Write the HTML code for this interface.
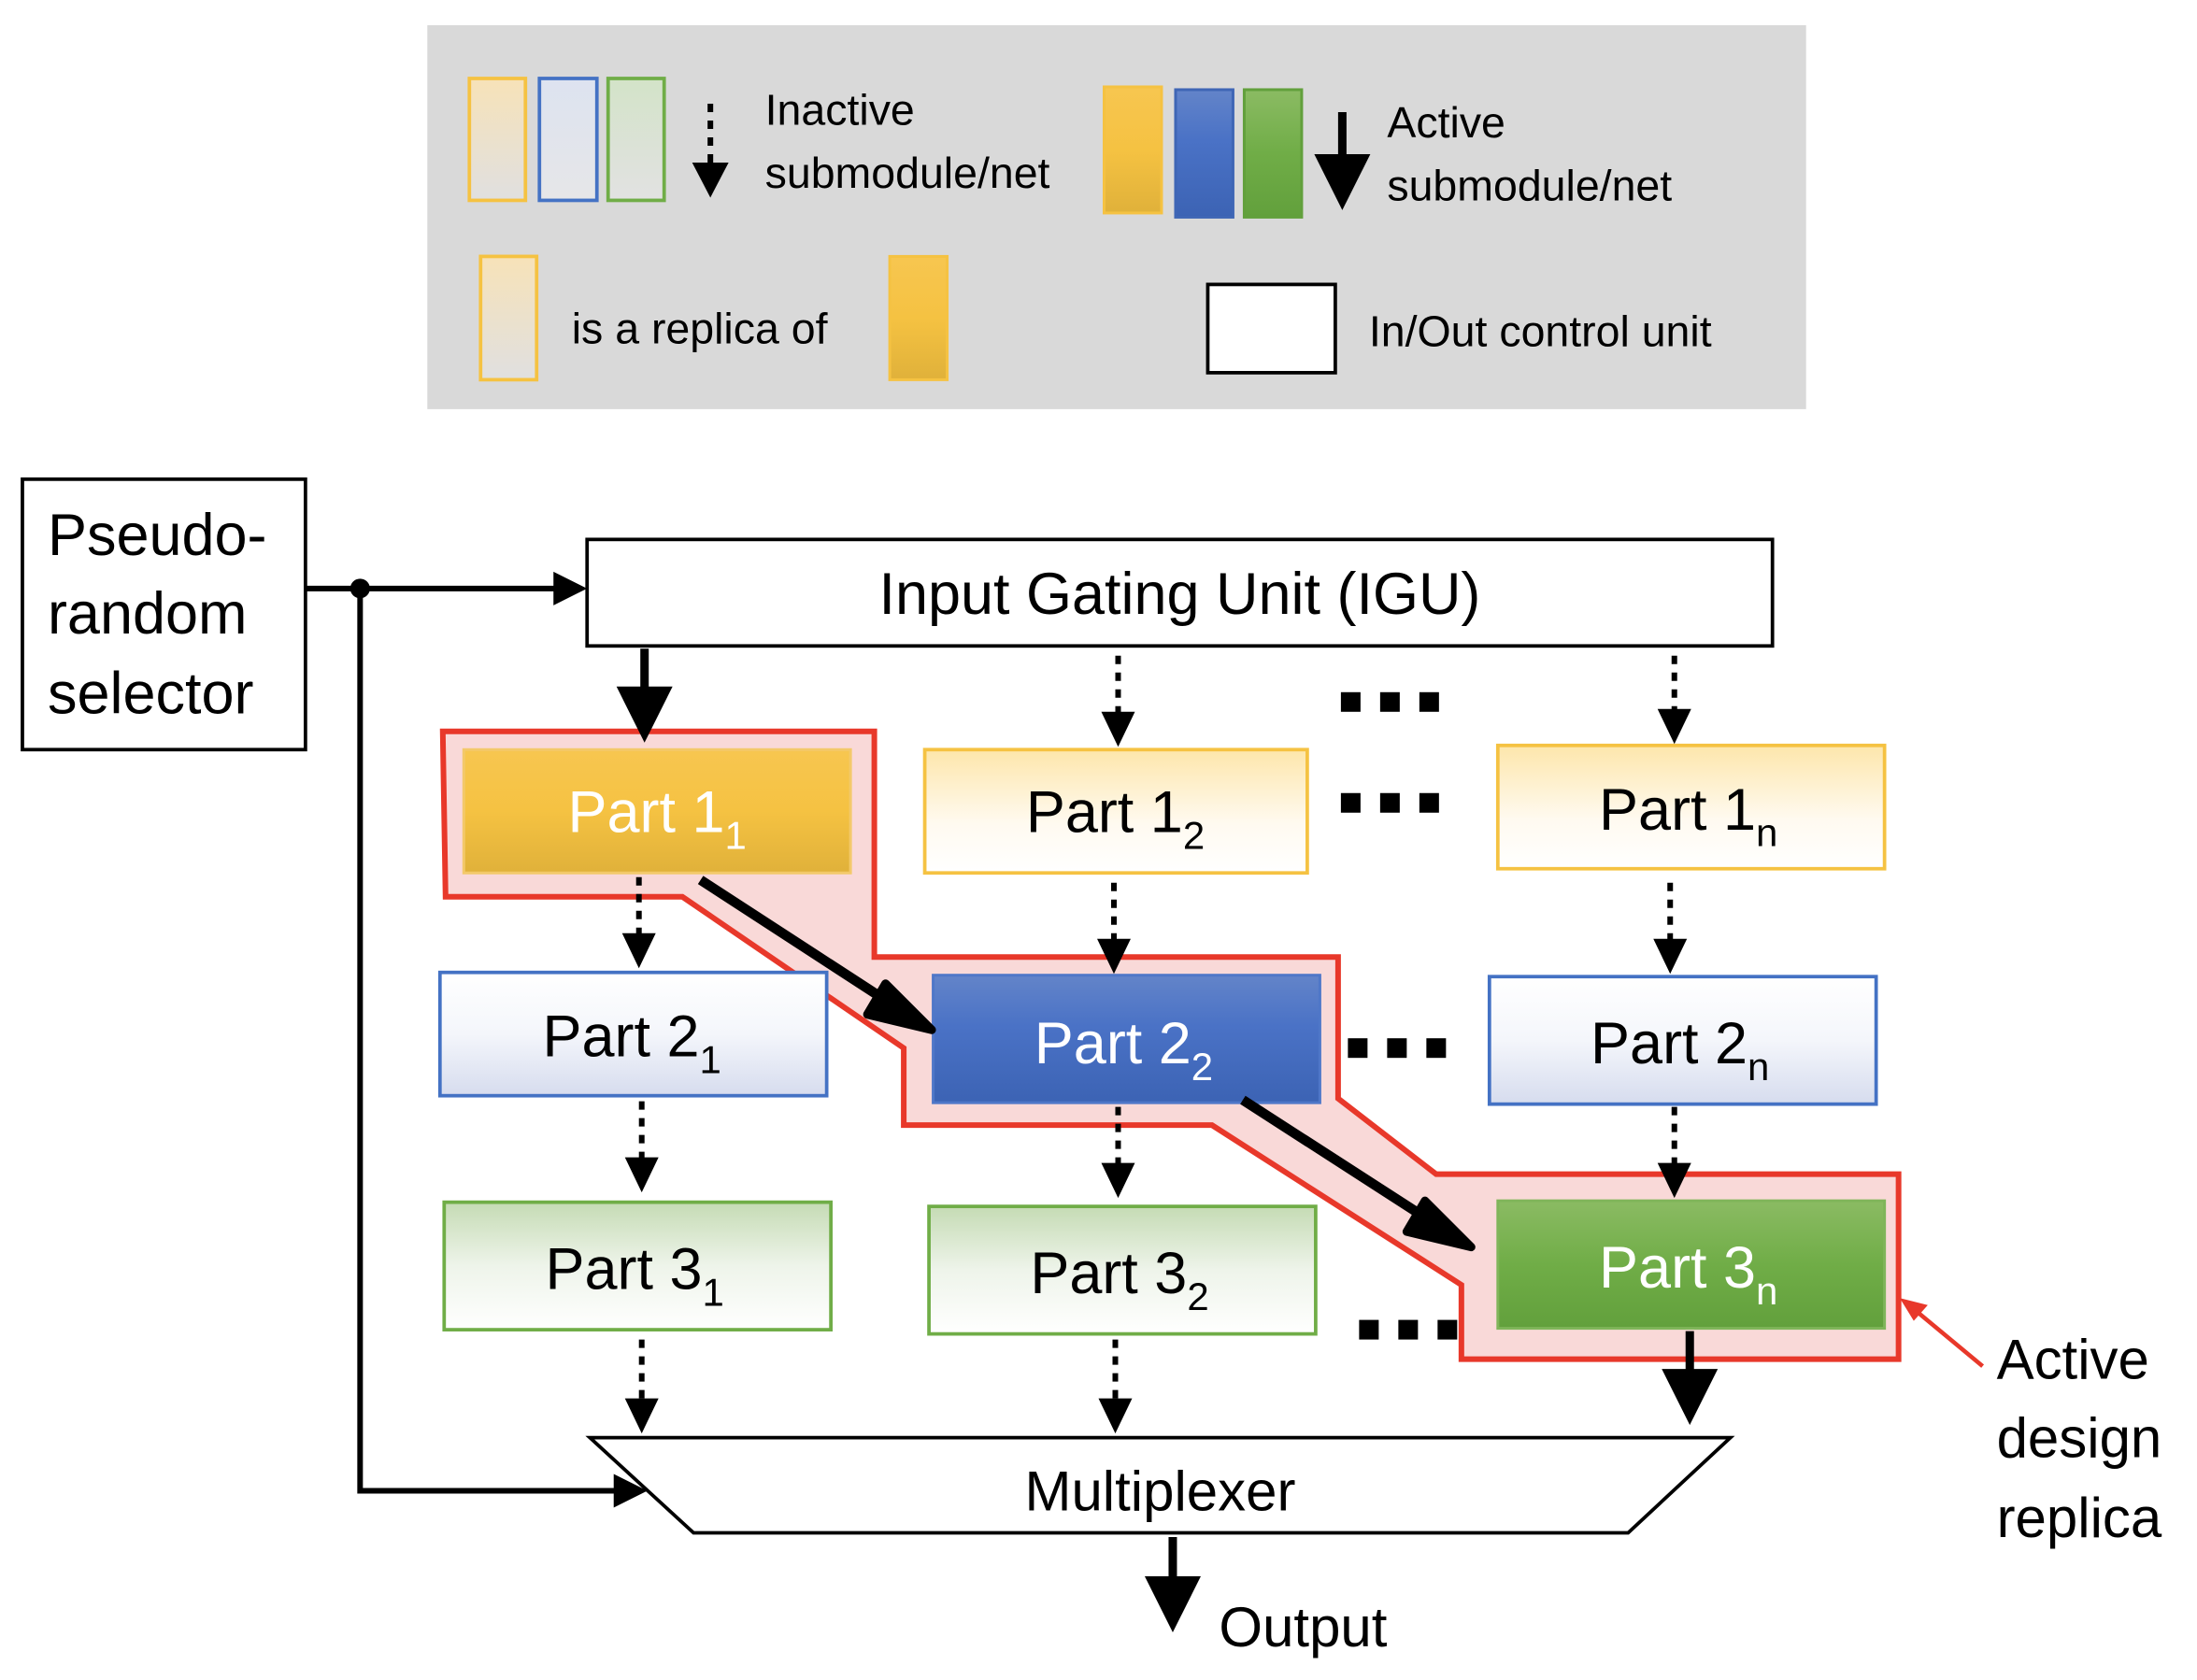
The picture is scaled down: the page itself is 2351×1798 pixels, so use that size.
<!DOCTYPE html>
<html><head><meta charset="utf-8"><style>
html,body{margin:0;padding:0;background:#fff;}
svg{display:block;}
text{font-family:"Liberation Sans",sans-serif;}
</style></head><body>
<svg width="2351" height="1798" viewBox="0 0 1568 1199" preserveAspectRatio="none" xmlns="http://www.w3.org/2000/svg">
<defs>
<linearGradient id="ly" x1="0" y1="0" x2="0" y2="1"><stop offset="0" stop-color="#fde6ab"/><stop offset="0.6" stop-color="#fffaf0"/><stop offset="1" stop-color="#ffffff"/></linearGradient>
<linearGradient id="lb" x1="0" y1="0" x2="0" y2="1"><stop offset="0" stop-color="#ffffff"/><stop offset="0.5" stop-color="#f4f6fb"/><stop offset="1" stop-color="#d6dcee"/></linearGradient>
<linearGradient id="lg" x1="0" y1="0" x2="0" y2="1"><stop offset="0" stop-color="#c5dbb4"/><stop offset="0.5" stop-color="#eef4ea"/><stop offset="1" stop-color="#ffffff"/></linearGradient>
<linearGradient id="sy" x1="0" y1="0" x2="0" y2="1"><stop offset="0" stop-color="#f7c650"/><stop offset="0.5" stop-color="#f5c242"/><stop offset="1" stop-color="#e0b13a"/></linearGradient>
<linearGradient id="sb" x1="0" y1="0" x2="0" y2="1"><stop offset="0" stop-color="#6384c9"/><stop offset="0.4" stop-color="#4a72c6"/><stop offset="1" stop-color="#3c63b4"/></linearGradient>
<linearGradient id="sg" x1="0" y1="0" x2="0" y2="1"><stop offset="0" stop-color="#8bbb63"/><stop offset="0.5" stop-color="#70ad47"/><stop offset="1" stop-color="#62a03c"/></linearGradient>
<linearGradient id="lyl" x1="0" y1="0" x2="0" y2="1"><stop offset="0" stop-color="#f7e2b8"/><stop offset="1" stop-color="#e0e0e0"/></linearGradient>
<linearGradient id="lbl" x1="0" y1="0" x2="0" y2="1"><stop offset="0" stop-color="#dde3f0"/><stop offset="1" stop-color="#e6e6e8"/></linearGradient>
<linearGradient id="lgl" x1="0" y1="0" x2="0" y2="1"><stop offset="0" stop-color="#d3e3c8"/><stop offset="1" stop-color="#e2e2e2"/></linearGradient>
</defs>

<!-- Legend -->
<rect x="305" y="18" width="984" height="274" fill="#d9d9d9"/>
<rect x="335" y="56" width="40" height="87" fill="url(#lyl)" stroke="#f5c242" stroke-width="2.5"/>
<rect x="385" y="56" width="41" height="87" fill="url(#lbl)" stroke="#4472c4" stroke-width="2.5"/>
<rect x="434" y="56" width="40" height="87" fill="url(#lgl)" stroke="#70ad47" stroke-width="2.5"/>
<line x1="507" y1="74" x2="507" y2="118" stroke="#000" stroke-width="4" stroke-dasharray="6,6"/>
<path d="M494,116 L520,116 L507,141 z" fill="#000"/>
<text x="546" y="89" font-size="31">Inactive</text>
<text x="546" y="134" font-size="31">submodule/net</text>
<rect x="788" y="62" width="41" height="90" fill="url(#sy)" stroke="#f5c242" stroke-width="2"/>
<rect x="839" y="64" width="41" height="91" fill="url(#sb)" stroke="#3f66b5" stroke-width="2"/>
<rect x="888" y="64" width="41" height="91" fill="url(#sg)" stroke="#62a03c" stroke-width="2"/>
<line x1="958" y1="80" x2="958" y2="115" stroke="#000" stroke-width="6"/>
<path d="M938,110 L978,110 L958,150 z" fill="#000"/>
<text x="990" y="98" font-size="31">Active</text>
<text x="990" y="143" font-size="31">submodule/net</text>
<rect x="343" y="183" width="40" height="88" fill="url(#lyl)" stroke="#f5c242" stroke-width="2.5"/>
<text x="408" y="245" font-size="31">is a replica of</text>
<rect x="635" y="183" width="41" height="88" fill="url(#sy)" stroke="#f5c242" stroke-width="2"/>
<rect x="862" y="203" width="91" height="63" fill="#fff" stroke="#000" stroke-width="2.5"/>
<text x="977" y="247" font-size="31">In/Out control unit</text>

<!-- Pseudo-random -->
<rect x="16" y="342" width="202" height="193" fill="#fff" stroke="#000" stroke-width="2.5"/>
<text x="34" y="396" font-size="42">Pseudo-</text>
<text x="34" y="452" font-size="42">random</text>
<text x="34" y="509" font-size="42">selector</text>

<!-- IGU -->
<rect x="419" y="385" width="846" height="76" fill="#fff" stroke="#000" stroke-width="2.5"/>
<text x="842" y="438" font-size="42" text-anchor="middle">Input Gating Unit (IGU)</text>

<line x1="218" y1="420" x2="400" y2="420" stroke="#000" stroke-width="4"/>
<path d="M395,408 L419,420 L395,432 z" fill="#000"/>
<circle cx="257" cy="420" r="7" fill="#000"/>
<polyline points="257,420 257,1064 442,1064" fill="none" stroke="#000" stroke-width="4"/>
<path d="M438,1052 L462,1064 L438,1076 z" fill="#000"/>

<!-- Red highlight -->
<polygon points="316,522 624,522 624,683 955,683 955,784 1025,838 1355,838 1355,970 1043,970 1043,917 865,803 645,803 645,748 487,640 318,640" fill="#f9d9d8" stroke="#e8382a" stroke-width="4" stroke-linejoin="miter"/>

<!-- Boxes -->
<rect x="331" y="535" width="276" height="88" fill="url(#sy)" stroke="#f3c96a" stroke-width="2"/>
<text x="469" y="594" font-size="42" text-anchor="middle" fill="#fff">Part 1<tspan font-size="28" dy="12">1</tspan></text>
<rect x="660" y="535" width="273" height="88" fill="url(#ly)" stroke="#f5c242" stroke-width="2.5"/>
<text x="796" y="594" font-size="42" text-anchor="middle">Part 1<tspan font-size="28" dy="12">2</tspan></text>
<rect x="1069" y="532" width="276" height="88" fill="url(#ly)" stroke="#f5c242" stroke-width="2.5"/>
<text x="1205" y="592" font-size="42" text-anchor="middle">Part 1<tspan font-size="28" dy="12">n</tspan></text>

<rect x="314" y="694" width="276" height="88" fill="url(#lb)" stroke="#4472c4" stroke-width="2.5"/>
<text x="451" y="754" font-size="42" text-anchor="middle">Part 2<tspan font-size="28" dy="12">1</tspan></text>
<rect x="666" y="696" width="276" height="91" fill="url(#sb)" stroke="#4f77c8" stroke-width="2"/>
<text x="802" y="759" font-size="42" text-anchor="middle" fill="#fff">Part 2<tspan font-size="28" dy="12">2</tspan></text>
<rect x="1063" y="697" width="276" height="91" fill="url(#lb)" stroke="#4472c4" stroke-width="2.5"/>
<text x="1199" y="759" font-size="42" text-anchor="middle">Part 2<tspan font-size="28" dy="12">n</tspan></text>

<rect x="317" y="858" width="276" height="91" fill="url(#lg)" stroke="#70ad47" stroke-width="2.5"/>
<text x="453" y="920" font-size="42" text-anchor="middle">Part 3<tspan font-size="28" dy="12">1</tspan></text>
<rect x="663" y="861" width="276" height="91" fill="url(#lg)" stroke="#70ad47" stroke-width="2.5"/>
<text x="799" y="923" font-size="42" text-anchor="middle">Part 3<tspan font-size="28" dy="12">2</tspan></text>
<rect x="1069" y="857" width="276" height="91" fill="url(#sg)" stroke="#80b55a" stroke-width="2"/>
<text x="1205" y="919" font-size="42" text-anchor="middle" fill="#fff">Part 3<tspan font-size="28" dy="12">n</tspan></text>

<!-- Solid arrows -->
<line x1="460" y1="463" x2="460" y2="495" stroke="#000" stroke-width="6"/>
<path d="M440,490 L480,490 L460,530 z" fill="#000"/>
<line x1="1206" y1="950" x2="1206" y2="982" stroke="#000" stroke-width="6"/>
<path d="M1186,977 L1226,977 L1206,1017 z" fill="#000"/>
<line x1="837" y1="1097" x2="837" y2="1128" stroke="#000" stroke-width="6"/>
<path d="M817,1125 L857,1125 L837,1165 z" fill="#000"/>
<line x1="500" y1="628" x2="640" y2="719" stroke="#000" stroke-width="7"/>
<path d="M632,702 L665,735 L619,724 z" fill="#000" stroke="#000" stroke-width="6" stroke-linejoin="round"/>
<line x1="887" y1="785" x2="1025" y2="874" stroke="#000" stroke-width="7"/>
<path d="M1017,857 L1050,890 L1004,879 z" fill="#000" stroke="#000" stroke-width="6" stroke-linejoin="round"/>

<!-- Dotted arrows -->
<g stroke="#000" stroke-width="4" stroke-dasharray="6,6" fill="none">
<line x1="798" y1="468" x2="798" y2="510"/>
<line x1="1195" y1="468" x2="1195" y2="508"/>
<line x1="456" y1="626" x2="456" y2="668"/>
<line x1="795" y1="630" x2="795" y2="672"/>
<line x1="1192" y1="630" x2="1192" y2="672"/>
<line x1="458" y1="786" x2="458" y2="828"/>
<line x1="798" y1="790" x2="798" y2="832"/>
<line x1="1195" y1="790" x2="1195" y2="832"/>
<line x1="458" y1="956" x2="458" y2="1000"/>
<line x1="796" y1="956" x2="796" y2="1000"/>
</g>
<g fill="#000">
<path d="M786,508 L810,508 L798,533 z"/>
<path d="M1183,506 L1207,506 L1195,531 z"/>
<path d="M444,666 L468,666 L456,691 z"/>
<path d="M783,670 L807,670 L795,695 z"/>
<path d="M1180,670 L1204,670 L1192,695 z"/>
<path d="M446,826 L470,826 L458,851 z"/>
<path d="M786,830 L810,830 L798,855 z"/>
<path d="M1183,830 L1207,830 L1195,855 z"/>
<path d="M446,998 L470,998 L458,1023 z"/>
<path d="M784,998 L808,998 L796,1023 z"/>
</g>

<!-- Ellipsis dots -->
<g fill="#000">
<rect x="957" y="494" width="14" height="14"/><rect x="985" y="494" width="14" height="14"/><rect x="1013" y="494" width="14" height="14"/>
<rect x="957" y="566" width="14" height="14"/><rect x="985" y="566" width="14" height="14"/><rect x="1013" y="566" width="14" height="14"/>
<rect x="962" y="741" width="14" height="14"/><rect x="990" y="741" width="14" height="14"/><rect x="1018" y="741" width="14" height="14"/>
<rect x="970" y="942" width="14" height="14"/><rect x="998" y="942" width="14" height="14"/><rect x="1026" y="942" width="14" height="14"/>
</g>

<!-- Multiplexer -->
<polygon points="421,1026 1235,1026 1162,1094 495,1094" fill="#fff" stroke="#000" stroke-width="2.5"/>
<text x="828" y="1078" font-size="40" text-anchor="middle">Multiplexer</text>
<text x="870" y="1175" font-size="40">Output</text>

<!-- Annotation -->
<line x1="1415" y1="975" x2="1368" y2="936" stroke="#e8382a" stroke-width="3"/>
<path d="M1358,928 L1374,932 L1366,941 z" fill="#e8382a" stroke="#e8382a" stroke-width="2"/>
<text x="1425" y="984" font-size="40">Active</text>
<text x="1425" y="1040" font-size="40">design</text>
<text x="1425" y="1097" font-size="40">replica</text>
</svg>
</body></html>
